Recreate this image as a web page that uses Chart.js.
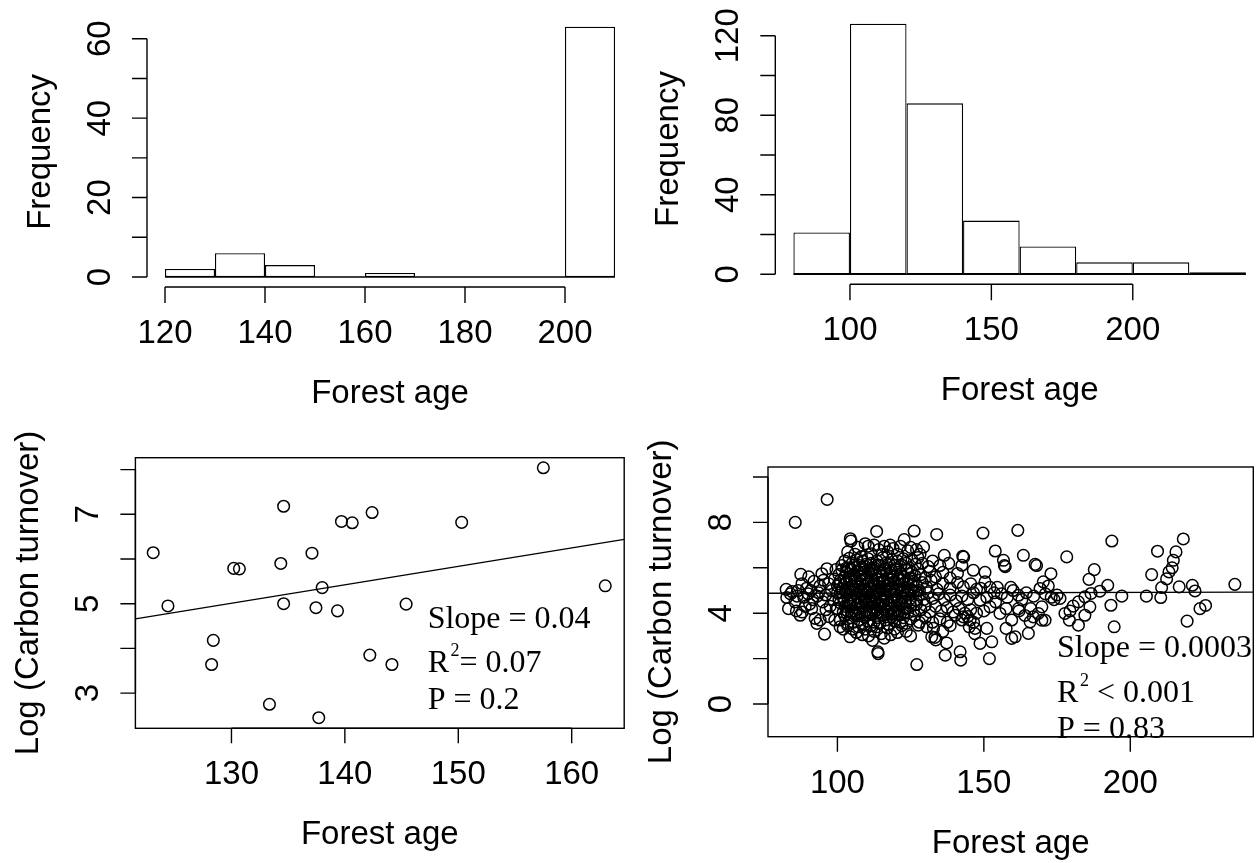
<!DOCTYPE html>
<html>
<head>
<meta charset="utf-8">
<title>Forest age vs carbon turnover</title>
<script src="https://cdn.jsdelivr.net/npm/chart.js@4.4.1/dist/chart.umd.min.js"></script>
<style>
  html, body { margin: 0; padding: 0; background: #fff; overflow: hidden; width: 1259px; height: 863px; }
  canvas { position: absolute; left: 0; top: 0; }
</style>
</head>
<body>
<canvas id="histSmall" width="1280" height="863"></canvas>
<canvas id="histLarge" width="1280" height="863"></canvas>
<canvas id="scatterSmall" width="1280" height="863"></canvas>
<canvas id="scatterLarge" width="1280" height="863"></canvas>
<script>
// ---- data ----

// top left histogram (bin edges and counts)
var smallAgeEdges = [120, 130, 140, 150, 160, 170, 180, 190, 200, 210];
var smallAgeFreq = [2, 6, 3, 0, 1, 0, 0, 0, 63];
var smallFreqTicks = [0, 10, 20, 30, 40, 50, 60];
var smallFreqLabels = ['0', '', '20', '', '40', '', '60'];
var smallAgeTicks = [120, 140, 160, 180, 200];

// top right histogram
var largeAgeEdges = [80, 100, 120, 140, 160, 180, 200, 220, 240];
var largeAgeFreq = [21, 126, 86, 27, 14, 6, 6, 1];
var largeFreqTicks = [0, 20, 40, 60, 80, 100, 120];
var largeFreqLabels = ['0', '', '40', '', '80', '', '120'];
var largeAgeTicks = [100, 150, 200];

// bottom left scatter: [forest age, log carbon turnover]
var smallSites = [
  [123.1, 6.14], [124.4, 4.95], [130.2, 5.79], [130.7, 5.78], [128.4, 4.18], [128.25, 3.64],
  [133.35, 2.75], [134.6, 7.18], [134.35, 5.9], [134.6, 5.0], [137.1, 6.13], [137.45, 4.91],
  [138.0, 5.36], [137.7, 2.45], [139.7, 6.84], [140.65, 6.81], [139.35, 4.84], [142.4, 7.04],
  [142.2, 3.85], [144.15, 3.64], [145.4, 4.99], [150.3, 6.82], [157.5, 8.04], [162.96, 5.40]
];
var smallFit = [[121.53, 4.66], [164.63, 6.44]];
var smallTurnTicks = [3, 4, 5, 6, 7, 8];
var smallTurnLabels = ['3', '', '5', '', '7', ''];
var smallScatterAgeTicks = [130, 140, 150, 160];

// bottom right scatter: [forest age, log carbon turnover]
var largeSites = [
  // 80-100 group
  [82.5, 5.05], [82.7, 4.69], [83.3, 4.2], [84, 4.85], [84.5, 4.95], [85.5, 4.5], [85.6, 8.0], [86, 4.1],
  [86.2, 4.75], [86.6, 5.0], [87.3, 3.91], [87.5, 5.71], [87.9, 5.3], [88, 4.05], [88.5, 4.7], [89, 4.3],
  [89.5, 5.1], [90, 4.85], [90.2, 5.6], [90.5, 4.4], [91, 5.0], [91.2, 4.2], [91.6, 4.6], [92, 5.4],
  [92.4, 3.77], [93, 3.55], [93.1, 4.75], [93.6, 4.9], [94, 5.2], [94.1, 3.7], [94.7, 5.74], [95, 4.5],
  [95.2, 5.45], [95.6, 3.08], [96, 4.8], [96.1, 4.15], [96.4, 5.96], [96.5, 9.01], [97, 5.3], [97.1, 3.85],
  [97.5, 4.3], [98, 5.0], [98.5, 4.6], [99, 5.5], [99.1, 3.7], [99.5, 5.92], [99.6, 4.2], [100, 4.9],
  [100.5, 5.3], [100.9, 3.4],
  // upper fringe
  [103.5, 6.7], [104.4, 7.28], [104.6, 7.18], [106, 6.6], [107, 6.9], [108.2, 6.5], [109.5, 7.06], [110.5, 6.95],
  [111.5, 6.62], [112.5, 7.0], [113.4, 7.6], [114.1, 6.8], [115.2, 6.58], [116, 6.95], [117.2, 6.7], [118, 7.0],
  [119, 6.85], [120.5, 6.6], [121.5, 6.95], [122.8, 7.24], [124, 6.75], [125, 6.9], [126.2, 7.62], [127, 6.8],
  [128.2, 6.6], [129.4, 6.91], [133.9, 7.47], [136.5, 6.55], [142.8, 6.51],
  // 6.0 - 6.5
  [101.5, 6.1], [102.5, 6.3], [103.2, 6.0], [104, 6.42], [105, 6.2], [106, 6.02], [106.6, 6.35], [107.5, 6.1],
  [108.5, 6.3], [109.5, 6.05], [110.5, 6.4], [111.5, 6.2], [112.5, 6.0], [113.5, 6.3], [114.5, 6.1], [115.5, 6.45],
  [116.5, 6.2], [117.5, 6.0], [118.5, 6.35], [119.5, 6.1], [120.5, 6.3], [121.5, 6.05], [122.5, 6.4], [123.5, 6.2],
  [124.5, 6.0], [125.5, 6.35], [126.6, 6.15], [127.5, 6.45], [129, 6.2], [131, 6.05], [132.5, 6.3], [135, 6.1],
  [138, 6.2], [142.5, 6.11],
  // 5.5 - 6.0
  [100.5, 5.7], [101.5, 5.9], [102.2, 5.55], [103, 5.8], [104, 5.6], [104.6, 5.95], [105.5, 5.7], [106.5, 5.52],
  [107.1, 5.85], [108, 5.65], [109, 5.95], [109.6, 5.55], [110.5, 5.8], [111.5, 5.6], [112.1, 5.9], [113, 5.7],
  [114, 5.5], [114.6, 5.85], [115.5, 5.65], [116.5, 5.95], [117.1, 5.55], [118, 5.8], [119, 5.6], [120, 5.9],
  [120.6, 5.5], [121.5, 5.75], [122.5, 5.6], [123.5, 5.9], [124.5, 5.55], [125.5, 5.8], [126.5, 5.65], [127.5, 5.95],
  [128.5, 5.7], [130, 5.55], [131.5, 5.85], [133.5, 5.6], [136, 5.8], [138.5, 5.55], [141, 5.75], [146.4, 5.89],
  // 5.0 - 5.5
  [100, 5.2], [101, 5.45], [101.6, 5.05], [102.5, 5.3], [103.5, 5.1], [104.1, 5.45], [105, 5.2], [106, 5.0],
  [106.6, 5.35], [107.5, 5.15], [108.5, 5.45], [109.1, 5.05], [110, 5.3], [111, 5.1], [111.6, 5.4], [112.5, 5.2],
  [113.5, 5.0], [114.1, 5.35], [115, 5.15], [116, 5.45], [116.6, 5.05], [117.5, 5.3], [118.5, 5.1], [119.5, 5.4],
  [120.1, 5.0], [121, 5.25], [122, 5.45], [123, 5.1], [124, 5.3], [125, 5.05], [126, 5.4], [127, 5.2],
  [128, 5.0], [129, 5.35], [130.5, 5.15], [132, 5.45], [134, 5.05], [136, 5.3], [138.5, 5.1], [141, 5.35],
  [143, 5.16], [145.5, 5.3], [147.5, 5.05],
  // 4.5 - 5.0
  [100.5, 4.6], [101, 4.9], [102, 4.7], [103, 4.95], [103.6, 4.55], [104.5, 4.8], [105.5, 4.6], [106, 4.9],
  [107, 4.7], [108, 4.5], [108.6, 4.85], [109.5, 4.65], [110.5, 4.95], [111, 4.55], [112, 4.8], [113, 4.6],
  [113.6, 4.9], [114.5, 4.7], [115.5, 4.5], [116, 4.85], [117, 4.65], [118, 4.95], [118.6, 4.55], [119.5, 4.8],
  [120.5, 4.6], [121.5, 4.9], [122, 4.7], [123, 4.5], [124, 4.85], [125, 4.65], [126, 4.95], [127, 4.55],
  [128, 4.8], [129.5, 4.6], [131, 4.9], [132.5, 4.65], [134.5, 4.85], [136.5, 4.6], [138.5, 4.8], [140.5, 4.55],
  [142.5, 4.75], [144.5, 4.6], [146.5, 4.9], [148.7, 4.57],
  // 4.0 - 4.5
  [100, 4.2], [101, 4.45], [102, 4.05], [102.6, 4.3], [103.5, 4.1], [104.5, 4.4], [105, 4.0], [106, 4.25],
  [107, 4.45], [107.6, 4.05], [108.5, 4.3], [109.5, 4.1], [110, 4.4], [111, 4.0], [112, 4.25], [112.6, 4.45],
  [113.5, 4.15], [114.5, 4.35], [115, 4.0], [116, 4.3], [117, 4.1], [117.6, 4.45], [118.5, 4.2], [119.5, 4.0],
  [120.5, 4.35], [121, 4.1], [122, 4.45], [123, 4.2], [124, 4.0], [125, 4.3], [126, 4.1], [127, 4.4],
  [128.5, 4.15], [130, 4.35], [131.5, 4.05], [133.5, 4.3], [135.5, 4.1], [137.5, 4.25], [139.5, 4.05], [141.5, 4.2],
  [143.5, 4.0], [145.5, 4.15], [147.5, 4.0], [150, 4.1], [152.1, 4.28],
  // 3.5 - 4.0
  [101, 3.7], [102.5, 3.9], [103.5, 3.55], [104.5, 3.8], [105.5, 3.6], [106.5, 3.95], [107.5, 3.7], [108.5, 3.5],
  [109.5, 3.85], [110.5, 3.65], [111.5, 3.95], [112.5, 3.6], [113.5, 3.8], [114.5, 3.55], [115.5, 3.9], [116.5, 3.7],
  [117.5, 3.5], [118.5, 3.85], [119.5, 3.65], [120.5, 3.95], [121.5, 3.6], [122.5, 3.8], [123.5, 3.55], [125, 3.75],
  [126.5, 3.9], [128, 3.6], [130, 3.8], [132.5, 3.6], [135, 3.75], [137.5, 3.6], [140.2, 3.91], [142.5, 3.7],
  [144.5, 3.85], [146.5, 3.6], [155.5, 3.99], [143, 3.84], [145.3, 3.69],
  // 2.9 - 3.5
  [102, 3.3], [103.5, 3.45], [104.3, 2.96], [105.2, 3.3], [106.5, 3.15], [107.2, 3.4], [108.5, 3.05], [109.5, 3.3],
  [110.6, 3.0], [111.5, 3.45], [112.5, 3.2], [113.5, 3.4], [115, 3.1], [116, 2.9], [117, 3.35], [118.2, 3.05],
  [119.5, 3.3], [120.5, 3.15], [122, 3.45], [123.5, 3.2], [125, 3.0], [127.6, 3.47], [130.5, 3.4], [132.2, 2.96],
  [132.8, 3.33], [136, 3.2], [138.5, 3.45], [145, 3.4], [147, 3.33], [151, 3.33], [146.9, 3.1],
  // dense core, extra overlapping rings
  [103.8, 5.98], [105.8, 6.12], [107.8, 5.92], [109.8, 6.15], [111.8, 5.96], [113.8, 6.12], [115.8, 5.9], [117.8, 6.14],
  [119.8, 5.97], [121.8, 6.13], [123.8, 5.92],
  [103.2, 5.38], [104.8, 5.5], [106.2, 5.42], [107.8, 5.28], [109.3, 5.5], [110.8, 5.4], [112.3, 5.28], [113.8, 5.48],
  [115.3, 5.38], [116.8, 5.22], [118.3, 5.46], [119.8, 5.3], [121.3, 5.52], [122.8, 5.34], [124.3, 5.44], [125.8, 5.25],
  [102.8, 5.02], [104.3, 4.98], [105.8, 5.08], [107.3, 4.96], [108.8, 5.06], [110.3, 4.98], [111.8, 5.04], [113.3, 4.96],
  [114.8, 5.08], [116.3, 4.98], [117.8, 5.04], [119.3, 4.97], [120.8, 5.06], [122.3, 5.0], [123.8, 4.96], [125.3, 5.02],
  [126.8, 4.98],
  [102.3, 4.52], [103.8, 4.42], [105.3, 4.5], [106.8, 4.38], [108.3, 4.48], [109.8, 4.52], [111.3, 4.4], [112.8, 4.52],
  [114.3, 4.44], [115.8, 4.55], [117.3, 4.38], [118.8, 4.48], [120.3, 4.5], [121.8, 4.4], [123.3, 4.52], [124.8, 4.45],
  [103.3, 3.98], [104.8, 4.08], [106.3, 3.96], [107.8, 4.02], [109.3, 3.92], [110.8, 4.06], [112.3, 3.98], [113.8, 4.04],
  [115.3, 3.92], [116.8, 4.05], [118.3, 3.96], [119.8, 4.08], [121.3, 3.94], [122.8, 4.02],
  // low values
  [112, 2.8], [113.8, 2.3], [113.9, 2.22], [127.1, 1.74], [136.8, 2.15], [137.3, 2.69], [141.9, 2.3], [142.1, 1.93],
  [148.7, 2.67], [151.9, 2.0], [152.7, 2.74], [157.6, 3.33], [159.5, 2.89], [133.3, 2.93], [133.6, 2.82],
  // 140 - 200
  [143.1, 6.47], [150.4, 5.8], [150.4, 5.38], [152.1, 5.14], [154.6, 5.14], [159.2, 5.14], [149.7, 7.53], [153.9, 6.74],
  [156.7, 6.33], [157, 6.1], [157.3, 6.05], [161.6, 7.65], [161.8, 4.79], [161.8, 4.2], [163.5, 6.55], [167.5, 6.15],
  [168, 6.1], [169.2, 5.09], [170.3, 5.38], [172.9, 5.74], [160.7, 2.96], [165.2, 3.11], [165.8, 3.62], [166.9, 3.84],
  [168.6, 3.99], [169.8, 3.69], [170.9, 3.69], [169.8, 4.28], [163, 4.6], [164.5, 4.9], [160, 5.0], [158, 4.7],
  [156, 4.85], [154, 4.5], [162, 4.1], [164, 3.9], [166, 4.2], [167, 4.75], [171, 4.85], [172, 5.2],
  [173, 4.7], [174, 4.6], [175, 4.8], [176, 4.65], [177.7, 3.99], [179.2, 3.69], [178.3, 6.48], [179.4, 4.1],
  [180.5, 4.31], [182.3, 4.5], [184.5, 4.72], [186.2, 4.28], [184.5, 3.91], [182.3, 3.47], [185.9, 5.49], [187.7, 5.92],
  [186.6, 4.87], [189.6, 4.97], [192.3, 5.23], [193.4, 4.35], [194.5, 3.4], [193.7, 7.18], [197.1, 4.75], [148.9, 5.1],
  [151, 4.7], [153.5, 4.9], [157.6, 4.2], [159.5, 3.7],
  // over 200
  [205.5, 4.75], [207.3, 5.7], [209.3, 6.73], [210.4, 4.69], [210.7, 5.13], [212.4, 5.51], [213.2, 5.82], [214.3, 6.0],
  [214.7, 6.33], [215.6, 6.7], [216.7, 5.16], [218.1, 7.27], [219.4, 3.65], [221.2, 5.23], [222.1, 4.98], [223.8, 4.2],
  [225.7, 4.34], [235.7, 5.27]
];
var largeFit = [[76.3, 4.88], [242.0, 4.93]];
var largeTurnTicks = [0, 2, 4, 6, 8, 10];
var largeTurnLabels = ['0', '', '4', '', '8', ''];
var largeScatterAgeTicks = [100, 150, 200];

var SANS = '33px "Liberation Sans", Arial, sans-serif';
var SERIF_SIZE = 32;

// R-style axes: line only between outer ticks, rotated y labels, optional box and notes
var rAxes = {
  id: 'rAxes',
  afterDraw: function(chart, args, opts) {
    var ctx = chart.ctx;
    var area = chart.chartArea;
    var xs = chart.scales.x;
    var ys = chart.scales.y;
    ctx.save();
    ctx.strokeStyle = '#000';
    ctx.fillStyle = '#000';
    ctx.lineWidth = 1.4;

    if (opts.box) {
      ctx.strokeRect(area.left, area.top, area.right - area.left, area.bottom - area.top);
    }

    // x axis
    var ax = opts.x;
    var y0 = area.bottom;
    var px = ax.ticks.map(function(v) { return xs.getPixelForValue(v); });
    ctx.beginPath();
    ctx.moveTo(px[0], y0);
    ctx.lineTo(px[px.length - 1], y0);
    px.forEach(function(p) {
      ctx.moveTo(p, y0);
      ctx.lineTo(p, y0 + ax.tickLen);
    });
    ctx.stroke();
    ctx.font = SANS;
    ctx.textAlign = 'center';
    ctx.textBaseline = 'alphabetic';
    ax.labels.forEach(function(t, i) {
      if (t) ctx.fillText(t, px[i], y0 + ax.labelGap);
    });
    ctx.fillText(ax.title, (area.left + area.right) / 2, y0 + ax.titleGap);

    // y axis
    var ay = opts.y;
    var x0 = area.left;
    var py = ay.ticks.map(function(v) { return ys.getPixelForValue(v); });
    ctx.beginPath();
    ctx.moveTo(x0, py[0]);
    ctx.lineTo(x0, py[py.length - 1]);
    py.forEach(function(p) {
      ctx.moveTo(x0, p);
      ctx.lineTo(x0 - ay.tickLen, p);
    });
    ctx.stroke();
    ay.labels.forEach(function(t, i) {
      if (!t) return;
      ctx.save();
      ctx.translate(x0 - ay.labelGap, py[i]);
      ctx.rotate(-Math.PI / 2);
      ctx.fillText(t, 0, 0);
      ctx.restore();
    });
    ctx.save();
    ctx.translate(x0 - ay.titleGap, (area.top + area.bottom) / 2);
    ctx.rotate(-Math.PI / 2);
    ctx.fillText(ay.title, 0, 0);
    ctx.restore();

    // annotation lines (serif, with superscript parts)
    (opts.notes || []).forEach(function(line) {
      var x = xs.getPixelForValue(line.x);
      var y = ys.getPixelForValue(line.y);
      ctx.textAlign = 'left';
      line.parts.forEach(function(part) {
        if (part.sup) {
          ctx.font = '18px "Liberation Serif", "Times New Roman", serif';
          x += 1.5;
          ctx.fillText(part.text, x, y - 16);
        } else {
          ctx.font = SERIF_SIZE + 'px "Liberation Serif", "Times New Roman", serif';
          ctx.fillText(part.text, x, y);
        }
        x += ctx.measureText(part.text).width;
      });
    });
    ctx.restore();
  }
};

function baseOptions(pad, xMin, xMax, yMin, yMax, axes, xTickValues) {
  var xScale = { type: 'linear', min: xMin, max: xMax, bounds: 'data', offset: false, display: false };
  if (xTickValues) {
    // keep the bar ruler on the bin edges
    xScale.afterBuildTicks = function(scale) {
      scale.ticks = xTickValues.map(function(v) { return { value: v }; });
    };
  }
  return {
    responsive: false,
    animation: false,
    events: [],
    layout: { padding: pad },
    plugins: {
      legend: { display: false },
      tooltip: { enabled: false },
      rAxes: axes
    },
    scales: {
      x: xScale,
      y: { type: 'linear', min: yMin, max: yMax, bounds: 'data', display: false }
    }
  };
}

function histChart(id, edges, freq, pad, xRange, yRange, axes) {
  var bars = freq.map(function(f, i) {
    return { x: (edges[i] + edges[i + 1]) / 2, y: f };
  });
  var baseline = [{ x: edges[0], y: 0 }, { x: edges[edges.length - 1], y: 0 }];
  return new Chart(document.getElementById(id), {
    type: 'bar',
    data: {
      datasets: [{
        data: bars,
        backgroundColor: '#ffffff',
        borderColor: '#000000',
        borderWidth: 1.3,
        borderSkipped: false,
        barPercentage: 1,
        categoryPercentage: 1,
        inflateAmount: 0
      }, {
        type: 'line',
        data: baseline,
        borderColor: '#000000',
        borderWidth: 1.4,
        pointRadius: 0
      }]
    },
    options: baseOptions(pad, xRange[0], xRange[1], yRange[0], yRange[1], axes, edges),
    plugins: [rAxes]
  });
}

function scatterChart(id, sites, fit, pad, xRange, yRange, axes) {
  return new Chart(document.getElementById(id), {
    type: 'scatter',
    data: {
      datasets: [{
        data: sites.map(function(p) { return { x: p[0], y: p[1] }; }),
        pointStyle: 'circle',
        pointRadius: 5.8,
        borderWidth: 1.5,
        borderColor: '#000000',
        backgroundColor: 'rgba(0,0,0,0)'
      }, {
        type: 'line',
        data: fit.map(function(p) { return { x: p[0], y: p[1] }; }),
        borderColor: '#000000',
        borderWidth: 1.4,
        pointRadius: 0
      }]
    },
    options: baseOptions(pad, xRange[0], xRange[1], yRange[0], yRange[1], axes),
    plugins: [rAxes]
  });
}

histChart('histSmall', smallAgeEdges, smallAgeFreq,
  { left: 147, right: 647, top: 16.8, bottom: 576 },
  [116.4, 213.6], [-2.52, 65.52],
  {
    x: { ticks: smallAgeTicks, labels: smallAgeTicks.map(String), tickLen: 16, labelGap: 56, title: 'Forest age', titleGap: 116 },
    y: { ticks: smallFreqTicks, labels: smallFreqLabels, tickLen: 15, labelGap: 37, title: 'Frequency', titleGap: 97 }
  });

histChart('histLarge', largeAgeEdges, largeAgeFreq,
  { left: 775.3, right: 16, top: 13.8, bottom: 578.7 },
  [73.6, 246.4], [-5.04, 131.04],
  {
    x: { ticks: largeAgeTicks, labels: largeAgeTicks.map(String), tickLen: 16, labelGap: 56, title: 'Forest age', titleGap: 116 },
    y: { ticks: largeFreqTicks, labels: largeFreqLabels, tickLen: 15, labelGap: 37, title: 'Frequency', titleGap: 97 }
  });

scatterChart('scatterSmall', smallSites, smallFit,
  { left: 135.4, right: 655.8, top: 457.7, bottom: 134.7 },
  [121.53, 164.63], [2.213, 8.266],
  {
    box: true,
    x: { ticks: smallScatterAgeTicks, labels: smallScatterAgeTicks.map(String), tickLen: 15, labelGap: 56, title: 'Forest age', titleGap: 116 },
    y: { ticks: smallTurnTicks, labels: smallTurnLabels, tickLen: 15, labelGap: 37, title: 'Log (Carbon turnover)', titleGap: 97 },
    notes: [
      { x: 147.3, y: 4.46, parts: [{ text: 'Slope = 0.04' }] },
      { x: 147.3, y: 3.47, parts: [{ text: 'R' }, { text: '2', sup: true }, { text: '= 0.07' }] },
      { x: 147.3, y: 2.64, parts: [{ text: 'P = 0.2' }] }
    ]
  });

scatterChart('scatterLarge', largeSites, largeFit,
  { left: 768, right: 26.7, top: 467, bottom: 126.3 },
  [76.3, 242.0], [-1.44, 10.44],
  {
    box: true,
    x: { ticks: largeScatterAgeTicks, labels: largeScatterAgeTicks.map(String), tickLen: 15, labelGap: 56, title: 'Forest age', titleGap: 116 },
    y: { ticks: largeTurnTicks, labels: largeTurnLabels, tickLen: 15, labelGap: 37, title: 'Log (Carbon turnover)', titleGap: 97 },
    notes: [
      { x: 175.0, y: 2.08, parts: [{ text: 'Slope = 0.0003' }] },
      { x: 175.0, y: 0.10, parts: [{ text: 'R' }, { text: '2', sup: true }, { text: ' < 0.001' }] },
      { x: 175.0, y: -1.51, parts: [{ text: 'P = 0.83' }] }
    ]
  });
</script>
</body>
</html>
